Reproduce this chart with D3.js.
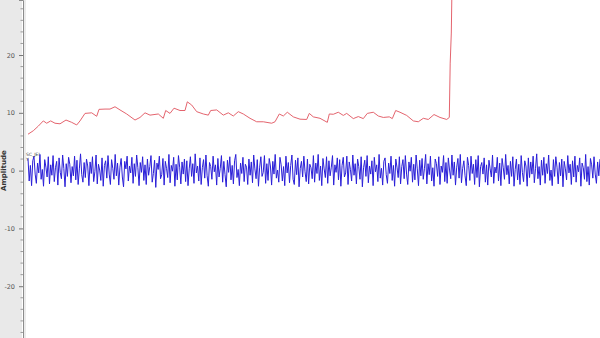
<!DOCTYPE html>
<html>
<head>
<meta charset="utf-8">
<script src="https://cdn.jsdelivr.net/npm/d3@7"></script>
<style>
  body { margin: 0; background: #fff; }
  svg { display: block; }
</style>
</head>
<body>
<script>
var w = 600;
var h = 338;

// y axis ticks
var majorTicks = [-20, -10, 0, 10, 20];
var minorTicks = d3.range(-28, 30, 2);

// red trace: time (s) and amplitude
var redTime = [0.0, 0.53, 1.03, 1.53, 1.87, 2.27, 2.7, 3.2, 3.8, 4.37, 4.87, 5.2, 5.7, 6.37, 6.87, 7.1,
  7.7, 8.2, 8.7, 9.2, 9.87, 10.7, 11.2, 11.7, 12.2, 13.03, 13.53, 13.77, 14.2, 14.6, 15.2, 15.7,
  15.93, 16.37, 16.87, 17.53, 18.03, 18.27, 18.87, 19.53, 20.03, 20.53, 21.03, 21.53, 22.2, 22.87,
  23.53, 24.37, 24.7, 25.13, 25.53, 25.93, 26.53, 27.2, 27.87, 28.13, 28.53, 29.2, 29.93, 30.13,
  30.53, 31.03, 31.53, 31.87, 32.53, 33.03, 33.53, 33.93, 34.53, 35.03, 35.53, 36.13, 36.43, 36.77,
  37.2, 37.87, 38.53, 39.03, 39.53, 40.03, 40.6, 41.2, 41.87, 42.13, 42.22, 42.33, 42.4, 42.45];
var redAmp = [6.3, 6.9, 7.7, 8.6, 8.2, 8.6, 8.2, 8.1, 8.75, 8.35, 7.9, 8.6, 9.9, 10.0, 9.4, 10.6,
  10.65, 10.65, 11.05, 10.5, 9.8, 8.75, 9.2, 10.0, 9.6, 9.8, 9.05, 10.4, 9.9, 10.8, 10.4, 10.4,
  11.9, 11.35, 10.2, 9.8, 9.6, 10.4, 10.5, 9.6, 10.0, 9.45, 10.2, 9.8, 9.05, 8.45,
  8.45, 8.2, 8.45, 9.8, 9.45, 10.1, 9.3, 8.9, 8.85, 9.9, 9.3, 9.05, 8.35, 9.8,
  9.75, 10.1, 9.55, 9.9, 9.0, 9.35, 9.0, 9.9, 10.1, 9.45, 9.2, 9.3, 9.0, 10.4,
  10.1, 9.55, 8.6, 8.45, 9.05, 8.85, 9.7, 9.2, 8.85, 9.2, 18.6, 23.8, 32, 40];

// blue trace: amplitude samples over the whole window
var blueAmp = [
  2.1,-1.8,0.9,-2.6,1.7,2.5,-0.6,-2.2,1.3,-0.4,2.8,-1.5,0.2,-2.7,1.9,0.6,-1.1,2.4,-2.3,1.0,-0.8,2.6,-1.9,0.5,
  1.6,-2.5,2.2,-0.3,-1.4,2.7,0.4,-2.8,1.2,-1.0,2.3,1.1,-2.1,0.7,-0.9,2.5,-1.6,1.8,-2.4,0.3,2.9,-0.7,-2.0,1.4,
  -1.2,2.0,0.8,-2.6,1.5,-0.5,2.4,-1.9,-0.2,2.7,-2.3,1.1,0.1,-1.7,2.2,-2.7,0.9,1.7,-1.3,2.6,-0.6,-2.4,1.9,0.4,
  -1.5,2.8,-0.9,1.3,-2.5,0.6,2.1,-1.1,-2.8,1.6,0.3,2.5,-1.8,0.8,-0.4,2.3,-2.2,1.2,-1.0,2.7,0.5,-2.6,1.4,-0.3,
  2.4,-1.7,1.0,-2.4,2.0,-0.8,0.7,2.6,-2.0,-0.5,1.8,-2.9,1.3,0.2,2.5,-1.4,-0.7,2.1,-2.5,1.6,0.4,-1.2,2.8,-2.1,
  0.9,-0.1,2.3,-2.7,1.1,-1.6,2.6,0.6,-2.3,1.5,-0.6,2.0,-1.9,1.7,-2.6,0.3,2.4,-1.0,1.2,-2.2,2.9,-0.4,0.8,-1.8,
  2.2,-2.4,0.5,1.9,-1.3,2.7,-0.9,-2.7,1.4,0.7,-1.5,2.5,-0.2,1.0,-2.5,2.1,-1.1,0.4,2.6,-2.0,1.6,-0.7,-2.8,1.8,
  -0.3,2.4,-1.6,0.9,-2.3,1.7,2.8,-1.2,0.2,-2.6,1.3,-0.5,2.3,-1.9,1.1,0.6,-2.4,2.0,-0.8,1.5,-2.1,2.7,0.3,-1.4,
  1.9,-2.7,0.6,2.4,-1.0,-0.3,2.6,-2.2,1.2,-1.7,2.1,0.8,-2.5,1.6,-0.6,2.8,-1.3,0.1,-2.0,2.3,1.0,-1.8,0.7,-2.6,
  2.5,-0.4,1.4,-2.1,0.9,2.7,-1.5,-2.4,1.8,-0.7,2.2,-2.8,0.4,1.6,-1.1,2.5,-0.2,-1.9,2.0,-2.3,1.1,0.5,-1.4,2.6,
  -2.0,1.3,-0.5,2.8,-1.7,0.8,-2.6,2.1,0.3,-1.2,2.4,-2.2,1.7,-0.9,0.6,2.6,-2.5,1.0,-0.3,2.2,-1.6,1.9,-2.7,0.9,
  2.3,-1.1,-0.4,2.5,-2.4,1.5,0.2,-1.8,2.7,-0.8,1.2,-2.3,2.0,0.7,-1.5,2.4,-2.8,0.5,1.8,-1.0,2.6,-2.1,0.8,-0.6,
  1.7,-2.6,2.3,-0.2,1.0,-1.9,2.8,-1.3,0.4,-2.5,1.6,2.2,-0.7,-2.2,1.3,-0.5,2.5,-1.7,0.9,-2.7,2.0,0.6,-1.2,2.4,
  -2.3,0.7,1.9,-1.4,2.6,-0.6,-2.4,1.5,-0.1,2.3,-2.0,1.1,-1.6,2.7,0.3,-2.6,1.8,-0.9,2.1,-1.5,0.4,2.8,-2.3,1.2,
  -0.7,2.5,-1.8,0.5,-2.7,2.0,1.2,-1.0,2.4,-2.4,0.8,-0.3,2.6,-1.9,1.4,-2.2,2.2,0.1,-1.4,2.7,-0.8,1.5,-2.5,0.6,
  2.1,-1.3,2.8,-2.1,0.4,1.7,-0.9,-2.6,2.3,0.9,-1.7,2.5,-0.5,1.1,-2.4,1.9,-1.2,2.6,-2.8,0.7,1.4,-0.6,2.2,-2.0,
  1.0,-2.5,1.8,0.3,-1.1,2.7,-2.2,0.6,-0.4,2.3,-1.8,1.3,-2.6,2.1,0.5,-1.5,2.8,-0.7,0.9,-2.3,1.6,-1.0,2.4,-2.7,
  0.2,2.0,-1.6,1.1,-2.4,2.6,-0.3,-1.9,1.7,0.8,-2.7,2.2,-1.2,1.5,-0.6,2.5,-2.1,0.4,2.9,-1.4,0.7,-2.5,1.8,-0.8,
  2.3,-2.2,1.2,-0.5,2.7,-1.7,0.1,-2.6,1.9,-1.0,2.4,0.6,-2.3,1.4,-0.9,2.0,-2.8,1.6,0.3,-1.6,2.6,-0.4,1.1,-2.4,
  1.7,-1.1,2.5,-2.0,0.9,-0.2,2.2,-2.7,1.3,0.5,-1.5,2.8,-1.9,0.7,-2.5,2.1,1.0,-1.3,2.4,-0.6,-2.2,1.5,-0.9,2.0
];
var timeSpan = 57.2;

var xScale = d3.scaleLinear().domain([0, timeSpan]).range([28, w]);
var yScale = d3.scaleLinear().domain([-28.96, 29.52]).range([h, 0]);

var svg = d3.select("body").append("svg")
    .attr("width", w)
    .attr("height", h);

svg.append("defs").append("clipPath").attr("id", "plot")
   .append("rect").attr("x", 24).attr("y", 0).attr("width", w - 24).attr("height", h);

// left gray panel
svg.append("rect").attr("x", 0).attr("y", 0).attr("width", 22).attr("height", h)
   .attr("fill", "#e9e9e9");

// axis
var yAxis = d3.axisLeft(yScale).tickValues(majorTicks).tickSize(4).tickPadding(4)
    .tickFormat(function(d) { return String(d); });
var gAxis = svg.append("g").attr("transform", "translate(23,0)").call(yAxis);
gAxis.select(".domain").attr("stroke", "#8c8c8c");
gAxis.selectAll(".tick line").attr("stroke", "#777");
gAxis.selectAll(".tick text")
     .attr("fill", "#555")
     .style("font", "6.5px 'DejaVu Sans', sans-serif");

svg.append("g").selectAll("line")
   .data(minorTicks.filter(function(d) { return majorTicks.indexOf(d) < 0; }))
   .enter().append("line")
   .attr("x1", 20.5).attr("x2", 23)
   .attr("y1", function(d) { return yScale(d); })
   .attr("y2", function(d) { return yScale(d); })
   .attr("stroke", "#888").attr("stroke-width", 0.8);

svg.append("line").attr("x1", 25).attr("x2", 25).attr("y1", 0).attr("y2", h)
   .attr("stroke", "#d8d8d8").attr("stroke-width", 1);

svg.append("text")
   .attr("transform", "translate(6," + yScale(0) + ") rotate(-90)")
   .attr("text-anchor", "middle")
   .style("font", "bold 7px 'DejaVu Sans', sans-serif")
   .attr("fill", "#333")
   .text("Amplitude");

// traces
var plot = svg.append("g").attr("clip-path", "url(#plot)");

var redLine = d3.line()
    .x(function(d, i) { return xScale(redTime[i]); })
    .y(function(d) { return yScale(d); });

var blueStep = timeSpan / (blueAmp.length - 1);
var blueLine = d3.line()
    .x(function(d, i) { return xScale(i * blueStep); })
    .y(function(d) { return yScale(d); });

plot.append("path").datum(blueAmp)
    .attr("d", blueLine)
    .attr("fill", "none")
    .attr("stroke", "#2a1fd8")
    .attr("stroke-width", 1);

plot.append("path").datum(redAmp)
    .attr("d", redLine)
    .attr("fill", "none")
    .attr("stroke", "#e4646e")
    .attr("stroke-width", 1);

// trace label
svg.append("text").attr("x", 26).attr("y", 156)
   .style("font", "4.5px 'DejaVu Sans', sans-serif").attr("fill", "#444")
   .text("SC_JEI");
svg.append("text").attr("x", 26).attr("y", 161)
   .style("font", "4.5px 'DejaVu Sans', sans-serif").attr("fill", "#444")
   .text("Y");
</script>
</body>
</html>
